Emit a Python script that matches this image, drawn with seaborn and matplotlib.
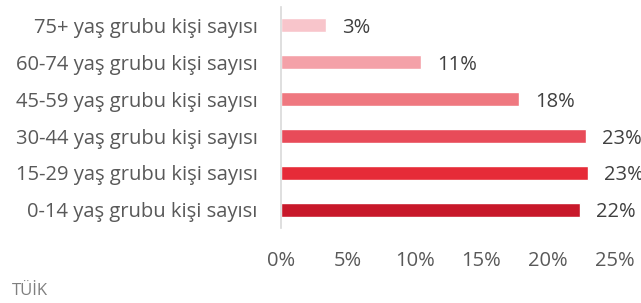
import matplotlib
matplotlib.use("Agg")
import matplotlib.pyplot as plt
import seaborn as sns
import pandas as pd

# age groups, top to bottom as drawn
groups = ["75+ yaş grubu kişi sayısı", "60-74 yaş grubu kişi sayısı",
          "45-59 yaş grubu kişi sayısı", "30-44 yaş grubu kişi sayısı",
          "15-29 yaş grubu kişi sayısı", "0-14 yaş grubu kişi sayısı"]
shares = [3.4, 10.5, 17.8, 22.8, 23.0, 22.4]
labels = ["3%", "11%", "18%", "23%", "23%", "22%"]
colors = ["#F8C5CB", "#F4A1A8", "#EF7880", "#E84B59", "#E62B38", "#C8182A"]
xticks = [0, 5, 10, 15, 20, 25]

df = pd.DataFrame({"group": groups, "share": shares})

sns.set_style("white")
plt.rcParams["font.family"] = ["Open Sans", "DejaVu Sans"]

fig = plt.figure(figsize=(6.41, 3.03), dpi=100)
ax = fig.add_axes([0.4384, 0.2459, 0.9594 - 0.4384, 0.9785 - 0.2459])

sns.barplot(data=df, x="share", y="group", hue="group", palette=colors,
            orient="h", width=0.38, legend=False, ax=ax, saturation=1)

# value labels right of each bar (the reference crops the 23% ones at the edge)
for i, (v, lab) in enumerate(zip(shares, labels)):
    ax.annotate(lab, (v, i), xytext=(11.5, 0), textcoords="offset points",
                va="center_baseline", ha="left", fontsize=14.5, color="#404040",
                annotation_clip=False)

ax.set_xlim(0, 25)
ax.set_ylim(5.5, -0.5)
ax.set_xticks(xticks)
ax.set_xticklabels([f"{t}%" for t in xticks])
ax.set_xlabel("")
ax.set_ylabel("")
ax.tick_params(axis="x", length=0, pad=16, labelsize=14.5, labelcolor="#595959")
ax.tick_params(axis="y", length=0, pad=17, labelsize=14.5, labelcolor="#595959")

for s in ["top", "right", "bottom"]:
    ax.spines[s].set_visible(False)
ax.spines["left"].set_color("#D9D9D9")
ax.spines["left"].set_linewidth(1.2)

fig.text(12 / 641, 1 - 291 / 303, "TÜİK", fontsize=12, color="#7F7F7F",
         ha="left", va="center")

fig.savefig("out.png", dpi=100)
